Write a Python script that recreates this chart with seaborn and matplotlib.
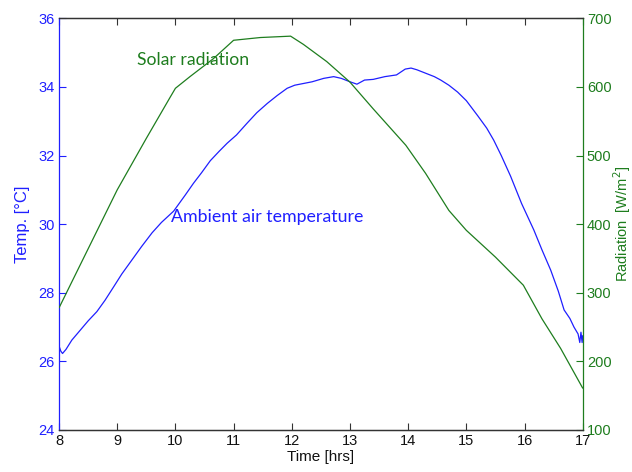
import matplotlib
matplotlib.use("Agg")
import matplotlib.pyplot as plt
import seaborn as sns
import pandas as pd

# Ambient air temperature readings (hour of day, deg C)
temp_hours = [8.0, 8.03, 8.06, 8.12, 8.22, 8.35, 8.5, 8.65, 8.79, 8.93, 9.08, 9.25,
              9.42, 9.6, 9.76, 9.97, 10.17, 10.31, 10.45, 10.6, 10.75, 10.89, 11.05,
              11.23, 11.4, 11.58, 11.75, 11.92, 12.05, 12.2, 12.35, 12.55, 12.72,
              12.85, 13.0, 13.12, 13.25, 13.4, 13.6, 13.8, 13.95, 14.05, 14.15,
              14.3, 14.45, 14.56, 14.7, 14.85, 15.0, 15.2, 15.35, 15.47, 15.6,
              15.76, 15.95, 16.16, 16.3, 16.45, 16.58, 16.68, 16.78, 16.85, 16.92,
              16.95, 16.97, 16.99, 17.0]
temp_values = [26.45, 26.3, 26.23, 26.35, 26.62, 26.88, 27.18, 27.45, 27.78, 28.15,
               28.55, 28.95, 29.35, 29.75, 30.05, 30.38, 30.85, 31.19, 31.5, 31.85,
               32.12, 32.36, 32.6, 32.94, 33.25, 33.52, 33.75, 33.96, 34.05, 34.1,
               34.15, 34.25, 34.3, 34.25, 34.15, 34.08, 34.2, 34.22, 34.3, 34.35,
               34.52, 34.55, 34.5, 34.4, 34.3, 34.2, 34.05, 33.85, 33.6, 33.15, 32.8,
               32.45, 32.0, 31.4, 30.6, 29.83, 29.25, 28.66, 28.05, 27.5, 27.25, 27.0,
               26.8, 26.55, 26.85, 26.55, 26.75]

# Solar radiation readings (hour of day, W/m^2)
rad_hours = [8.0, 8.5, 9.0, 9.5, 9.91, 10.0, 10.25, 10.65, 11.0, 11.46, 11.98,
             12.2, 12.6, 13.0, 13.4, 13.96, 14.3, 14.7, 15.0, 15.5, 15.98,
             16.3, 16.62, 17.0]
rad_values = [278, 364, 450, 525, 585, 598, 615, 641, 668, 672, 674, 662, 637,
              607, 568, 515, 474, 420, 391, 352, 311, 262, 219, 161]

x_ticks = [8, 9, 10, 11, 12, 13, 14, 15, 16, 17]
temp_ticks = [24, 26, 28, 30, 32, 34, 36]
rad_ticks = [100, 200, 300, 400, 500, 600, 700]

BLUE = "#1f1fff"
GREEN = "#1e7d1e"

sns.set_style("white")
plt.rcParams["font.family"] = ["Liberation Sans", "DejaVu Sans"]
plt.rcParams["xtick.direction"] = "in"
plt.rcParams["ytick.direction"] = "in"

temp_df = pd.DataFrame({"hour": temp_hours, "temp": temp_values})
rad_df = pd.DataFrame({"hour": rad_hours, "rad": rad_values})

fig = plt.figure(figsize=(6.32, 4.72), dpi=100)
ax = fig.add_axes([0.0934, 0.089, 0.8286, 0.8722])
ax2 = ax.twinx()

sns.lineplot(data=temp_df, x="hour", y="temp", ax=ax, color=BLUE, linewidth=0.9)
sns.lineplot(data=rad_df, x="hour", y="rad", ax=ax2, color=GREEN, linewidth=0.9)

ax.set_xlim(8, 17)
ax.set_ylim(24, 36)
ax2.set_ylim(100, 700)
ax.set_xticks(x_ticks)
ax.set_yticks(temp_ticks)
ax2.set_yticks(rad_ticks)

for a in (ax, ax2):
    for s in a.spines.values():
        s.set_linewidth(0.9)
        s.set_color("#333333")
ax.spines["left"].set_color(BLUE)
ax2.spines["right"].set_color(GREEN)
ax.spines["right"].set_visible(False)
ax2.spines["left"].set_visible(False)

ax.tick_params(axis="x", which="both", top=True, bottom=True, length=5,
               width=0.8, color="#333333", labelsize=10.5, labelcolor="#111111", pad=3)
ax.tick_params(axis="y", left=True, length=5, width=0.8, color=BLUE,
               labelsize=10.5, labelcolor=BLUE, pad=3)
ax2.tick_params(axis="y", right=True, length=5, width=0.8, color=GREEN,
                labelsize=10.5, labelcolor=GREEN, pad=3)

ax.set_xlabel("Time [hrs]", fontsize=11, color="#111111", labelpad=1)
ax.set_ylabel("Temp. [\u00b0C]", fontsize=12, color=BLUE, labelpad=6)
ax2.set_ylabel("Radiation  [W/m$^2$]", fontsize=10.5, color=GREEN)
ax2.yaxis.set_label_coords(1.054, 0.5)

ax.text(9.34, 34.79, "Solar radiation", color=GREEN, fontsize=12.7,
        family=["Lato", "DejaVu Sans"], va="center", ha="left")
ax.text(9.93, 30.21, "Ambient air temperature", color=BLUE, fontsize=12.8,
        family=["Lato", "DejaVu Sans"], va="center", ha="left")

fig.savefig("out.png", dpi=100)
